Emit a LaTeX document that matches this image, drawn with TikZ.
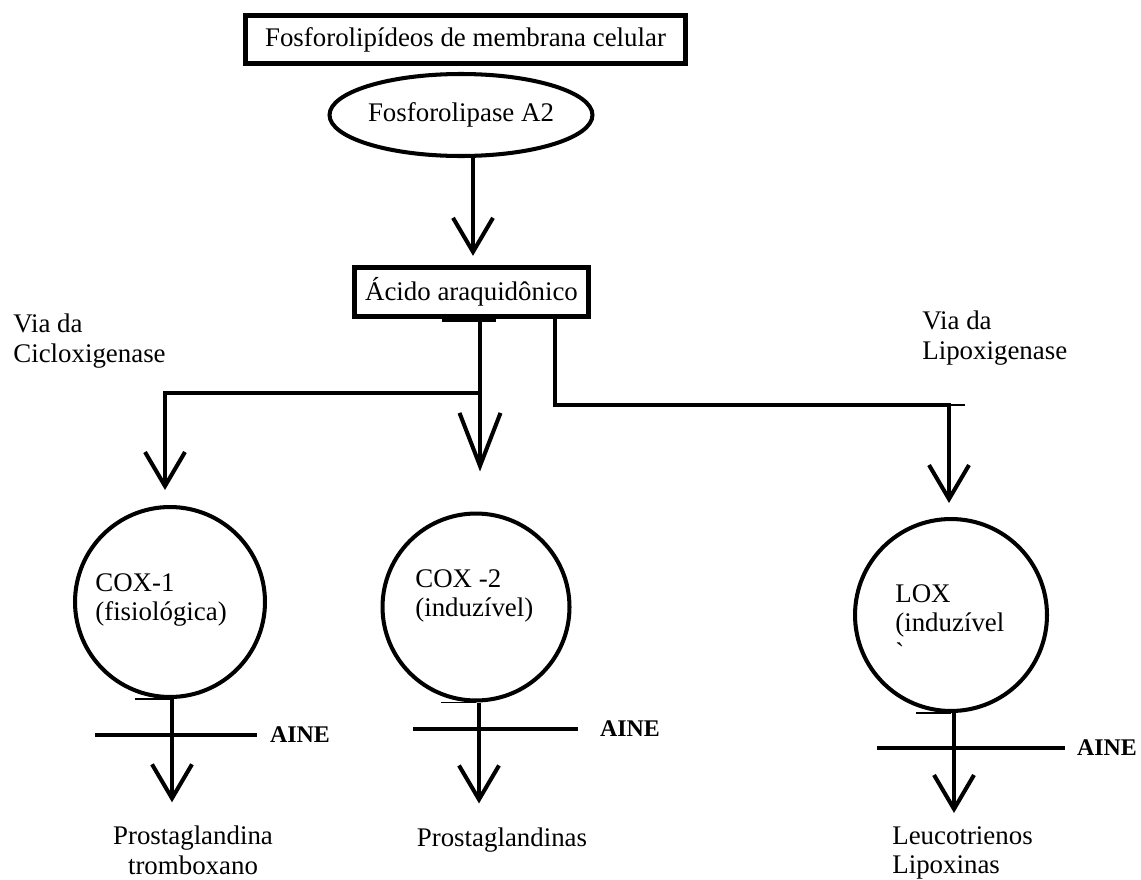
\documentclass[tikz,border=0pt]{standalone}
\usepackage{fontspec}
\setmainfont{Liberation Serif}
\usetikzlibrary{arrows.meta,shapes.geometric,positioning}

\tikzset{
	txt/.style={inner sep=0pt, font=\fontsize{15.3pt}{17pt}\selectfont},
	caixa/.style={draw, line width=2.5pt, txt},
	enzima/.style={draw, circle, line width=2.3pt, inner sep=0pt},
	fluxo/.style={line width=2.3pt, -{Straight Barb[length=0.68cm, width=0.8cm]}},
	fluxolongo/.style={line width=2.3pt, -{Straight Barb[length=1.06cm, width=0.82cm]}},
	barra/.style={line width=2.3pt},
	traco/.style={line width=0.8pt},
	aine/.style={inner sep=0pt, font=\fontsize{13.6pt}{16pt}\selectfont\bfseries},
}

\begin{document}
\begin{tikzpicture}[x=0.02cm, y=-0.02cm]
	\useasboundingbox (0,0) rectangle (1141,879);
	
	% membrana -> fosfolipase -> acido
	\node[caixa, minimum width=8.8cm, minimum height=0.96cm] (membrana) at (465.5,39.5) {Fosforolipídeos de membrana celular};
	\node[draw, ellipse, line width=2.3pt, minimum width=5.26cm, minimum height=1.64cm, txt] (pla2) at (461,115) {Fosforolipase A2};
	\node[caixa, minimum width=4.68cm, minimum height=0.98cm] (acido) at (471.5,292) {Ácido araquidônico};
	\draw[fluxo, shorten >=0.19cm] ([xshift=0.24cm]pla2.south) -- ([xshift=0.24cm]pla2.south |- acido.north);
	\draw[line width=2pt] (442,320) -- (496,320);
	
	% enzimas
	\node[enzima, minimum size=3.8cm] (cox1) at (170,602) {};
	\node[enzima, minimum size=3.74cm] (cox2) at (476,607) {};
	\node[enzima, minimum size=3.84cm] (lox) at (951,615) {};
	\node[txt, align=left, anchor=west] (cox1txt) at (95,600) {COX-1\\(fisiológica)};
	\node[txt, align=left, anchor=west] (cox2txt) at (415,596) {COX -2\\(induzível)};
	\node[txt, align=left, anchor=west] (loxtxt) at (895,623) {LOX\\(induzível\\\textasciigrave};
	
	\node[txt, align=left, anchor=west] (viacox) at (13,341) {Via da\\Cicloxigenase};
	\node[txt, align=left, anchor=west] (vialox) at (922,338) {Via da\\Lipoxigenase};
	
	% ramos
	\coordinate (split) at (480,393);
	\coordinate (curva) at (555,405);
	\draw[fluxolongo, shorten >=0.8cm] (acido.south -| split) -- (split |- cox2.north);
	\draw[fluxo, shorten >=0.3cm] (split) -| ([xshift=-0.1cm]cox1.north);
	\draw[fluxo, shorten >=0.28cm] (acido.south -| curva) -- (curva) -| ([xshift=-0.04cm]lox.north);
	\draw[traco] ([xshift=-0.04cm]curva -| lox.north) -- ++(16,0);
	
	% produtos
	\node[txt, align=center] (pg1) at (193,850) {Prostaglandina\\tromboxano};
	\node[txt] (pg2) at (502,840) {Prostaglandinas};
	\node[txt, align=left, anchor=west] (lt) at (892,853) {Leucotrienos\\Lipoxinas};
	\draw[fluxo, shorten >=0.46cm] ([xshift=0.04cm]cox1.south) -- ([xshift=0.04cm]cox1.south |- pg1.north);
	\draw[fluxo, shorten >=0.48cm] ([xshift=0.06cm]cox2.south) -- ([xshift=0.06cm]cox2.south |- pg2.north);
	\draw[fluxo, shorten >=0.26cm] ([xshift=0.06cm]lox.south) -- ([xshift=0.06cm]lox.south |- lt.north);
	\draw[traco] ([xshift=-0.7cm]cox1.south) -- (cox1.south);
	\draw[traco] ([xshift=-0.7cm]cox2.south) -- (cox2.south);
	\draw[traco] ([xshift=-0.7cm]lox.south) -- (lox.south);
	
	% inibicao AINE
	\draw[barra] (95,735) -- (257,735) node[aine, right=0.22cm] (aine1) {AINE};
	\draw[barra] (413,729) -- (578,729) node[aine, right=0.4cm] (aine2) {AINE};
	\draw[barra] (877,748) -- (1065,748) node[aine, right=0.2cm] (aine3) {AINE};
\end{tikzpicture}
\end{document}
